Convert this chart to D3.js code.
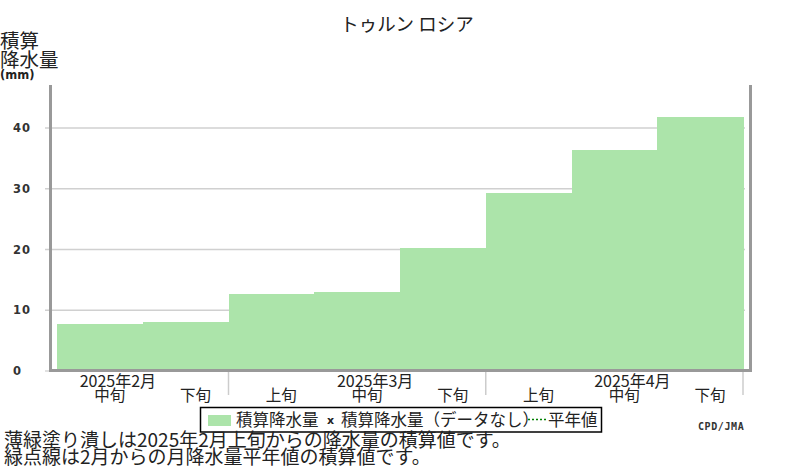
<!DOCTYPE html>
<html>
<head>
<meta charset="utf-8">
<script src="https://cdn.jsdelivr.net/npm/d3@7"></script>
<style>
  body { margin: 0; background: #fff; }
  svg { display: block; }
  text { font-family: "Noto Sans CJK JP", sans-serif; fill: #222; }
</style>
</head>
<body>
<div id="chart"></div>
<script>
// periods (month, decade) and accumulated precipitation (mm)
const months = ['2月', '2月', '3月', '3月', '3月', '4月', '4月', '4月'];
const decades = ['中旬', '下旬', '上旬', '中旬', '下旬', '上旬', '中旬', '下旬'];
const values = [7.7, 8.0, 12.6, 12.9, 20.1, 29.2, 36.3, 41.8];
const yTicks = [0, 10, 20, 30, 40];
const year = '2025';

const width = 800, height = 470;
const plot = {left: 50.5, right: 750.5, top: 85, bottom: 370.5};

const svg = d3.select('#chart').append('svg')
  .attr('width', width)
  .attr('height', height);

const periods = values.map((v, i) => ({key: i, month: months[i], decade: decades[i], value: v}));

const x = d3.scaleBand()
  .domain(periods.map(d => d.key))
  .range([57, 743])
  .padding(0);

const y = d3.scaleLinear()
  .domain([0, 47])
  .range([plot.bottom, plot.top]);

// title
svg.append('text')
  .attr('x', 407).attr('y', 31)
  .attr('text-anchor', 'middle')
  .style('font-size', '18.5px')
  .text('トゥルン ロシア');

// y label
const ylab = svg.append('g');
ylab.append('text').attr('x', 0).attr('y', 48).style('font-size', '19.5px').text('積算');
ylab.append('text').attr('x', 0).attr('y', 67).style('font-size', '19.5px').text('降水量');
ylab.append('text').attr('x', 0).attr('y', 78.5)
  .style('font-family', '"DejaVu Sans", sans-serif')
  .style('font-weight', 'bold').style('font-size', '11.5px')
  .text('(mm)');

// grid + tick stubs
svg.append('g')
  .selectAll('line')
  .data(yTicks)
  .join('line')
    .attr('x1', 45)
    .attr('x2', d => d === 0 ? plot.left : 745)
    .attr('y1', d => y(d) + 0.5)
    .attr('y2', d => y(d) + 0.5)
    .attr('stroke', '#d0d0d0')
    .attr('stroke-width', 1.3);

svg.append('g')
  .selectAll('text')
  .data(yTicks)
  .join('text')
    .attr('x', 13)
    .attr('y', d => y(d) + 4.5)
    .style('font-family', '"DejaVu Sans", sans-serif')
    .style('font-weight', 'bold')
    .style('font-size', '11.5px')
    .style('letter-spacing', '1px')
    .style('fill', '#333')
    .text(d => d);

// bars
svg.append('g')
  .attr('fill', '#ace4aa')
  .attr('shape-rendering', 'crispEdges')
  .selectAll('rect')
  .data(periods)
  .join('rect')
    .attr('x', d => Math.round(x(d.key)))
    .attr('y', d => y(d.value))
    .attr('width', d => Math.round(x(d.key) + x.bandwidth()) - Math.round(x(d.key)) + 1)
    .attr('height', d => y(0) - y(d.value));

// frame
const frame = svg.append('g').attr('stroke', '#999').attr('stroke-width', 3);
frame.append('line').attr('x1', plot.left).attr('x2', plot.left).attr('y1', plot.top).attr('y2', plot.bottom + 1.5);
frame.append('line').attr('x1', plot.right).attr('x2', plot.right).attr('y1', plot.top).attr('y2', plot.bottom + 1.5);
frame.append('line').attr('x1', plot.left - 1.5).attr('x2', plot.right + 1.5).attr('y1', plot.bottom).attr('y2', plot.bottom);

// month separators
const seps = periods.filter((d, i) => i === periods.length - 1 || periods[i + 1].month !== d.month);
svg.append('g')
  .selectAll('line')
  .data(seps)
  .join('line')
    .attr('x1', d => x(d.key) + x.bandwidth())
    .attr('x2', d => x(d.key) + x.bandwidth())
    .attr('y1', plot.bottom + 1.5)
    .attr('y2', 395)
    .attr('stroke', '#cccccc')
    .attr('stroke-width', 1.5);

// x labels
svg.append('g')
  .selectAll('text')
  .data(periods)
  .join('text')
    .attr('x', d => x(d.key) + x.bandwidth() / 2 + 10)
    .attr('y', 401)
    .attr('text-anchor', 'middle')
    .style('font-size', '15.5px')
    .text(d => d.decade);

svg.append('g')
  .selectAll('text')
  .data(periods.filter(d => d.decade === '中旬'))
  .join('text')
    .attr('x', d => x(d.key) + x.bandwidth() / 2 + 18)
    .attr('y', 387)
    .attr('text-anchor', 'middle')
    .style('font-size', '16px')
    .text(d => `${year}年${d.month}`);

// legend
const lg = svg.append('g');
lg.append('rect')
  .attr('x', 200.5).attr('y', 407.5).attr('width', 401).attr('height', 24.5)
  .attr('fill', '#fff').attr('stroke', '#000').attr('stroke-width', 1.5);
lg.append('rect')
  .attr('x', 208).attr('y', 415).attr('width', 23).attr('height', 11)
  .attr('fill', '#ace4aa');
lg.append('text').attr('x', 236).attr('y', 426).style('font-size', '16.5px').text('積算降水量');
lg.append('text').attr('x', 327).attr('y', 424)
  .style('font-family', '"DejaVu Sans", sans-serif')
  .style('font-weight', 'bold').style('font-size', '11px')
  .text('x');
lg.append('text').attr('x', 341).attr('y', 426).style('font-size', '16.5px').text('積算降水量（データなし）');
lg.append('line')
  .attr('x1', 528).attr('x2', 547).attr('y1', 419.5).attr('y2', 419.5)
  .attr('stroke', '#008000').attr('stroke-width', 1.5)
  .attr('stroke-dasharray', '2,2');
lg.append('text').attr('x', 548).attr('y', 426).style('font-size', '16.5px').text('平年値');

// credit
svg.append('text')
  .attr('x', 698).attr('y', 430)
  .style('font-family', '"DejaVu Sans Mono", monospace')
  .style('font-weight', 'bold').style('font-size', '10px')
  .style('letter-spacing', '0.6px')
  .style('fill', '#333')
  .text('CPD/JMA');

// notes
svg.append('text').attr('x', 4).attr('y', 447).style('font-size', '19px')
  .text('薄緑塗り潰しは2025年2月上旬からの降水量の積算値です。');
svg.append('text').attr('x', 4).attr('y', 464).style('font-size', '19px')
  .text('緑点線は2月からの月降水量平年値の積算値です。');
</script>
</body>
</html>
